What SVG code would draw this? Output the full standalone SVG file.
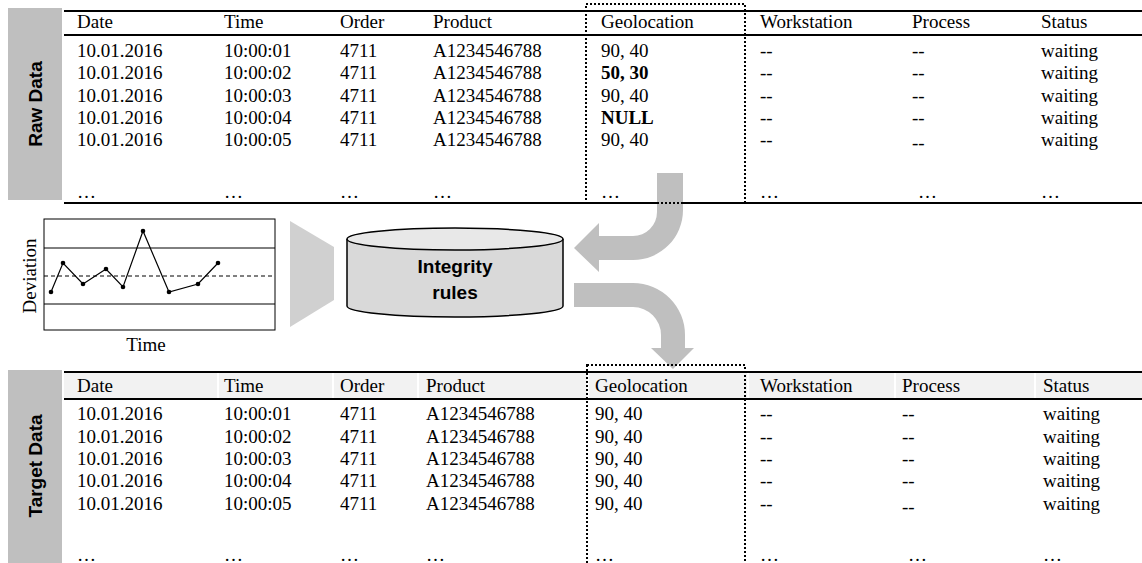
<svg xmlns="http://www.w3.org/2000/svg" width="1142" height="563" viewBox="0 0 1142 563">
<style>
.t{font-family:"Liberation Serif","Times New Roman",serif;font-size:19px;fill:#000}
.b{font-weight:bold}
.lab{font-family:"Liberation Sans",Arial,sans-serif;font-size:19px;font-weight:bold;fill:#000}
.rule{stroke:#000;stroke-width:2.2;fill:none}
.dot{fill:none;stroke:#000;stroke-width:2;stroke-dasharray:2 2}
.band{fill:#bfbfbf}
.arrow{fill:#bfbfbf}
</style>
<rect width="1142" height="563" fill="#fff"/>

<g id="raw-table">
<rect class="band" x="8" y="8" width="54" height="192"/>
<text class="lab" transform="translate(42,104) rotate(-90)" text-anchor="middle">Raw Data</text>
<line class="rule" x1="64" y1="11" x2="1142" y2="11"/>
<line class="rule" x1="64" y1="35" x2="1142" y2="35"/>
<line class="rule" x1="64" y1="203" x2="1142" y2="203"/>
<g class="t">
<text x="77" y="28">Date</text><text x="224" y="28">Time</text><text x="340" y="28">Order</text><text x="433" y="28">Product</text><text x="601" y="28">Geolocation</text><text x="760" y="28">Workstation</text><text x="912" y="28">Process</text><text x="1041" y="28">Status</text>
<text x="77" y="57">10.01.2016</text><text x="224" y="57">10:00:01</text><text x="340" y="57">4711</text><text x="433" y="57">A1234546788</text><text x="601" y="57">90, 40</text><text x="760" y="57">--</text><text x="912" y="57">--</text><text x="1041" y="57">waiting</text>
<text x="77" y="79">10.01.2016</text><text x="224" y="79">10:00:02</text><text x="340" y="79">4711</text><text x="433" y="79">A1234546788</text><text class="b" x="601" y="79">50, 30</text><text x="760" y="79">--</text><text x="912" y="79">--</text><text x="1041" y="79">waiting</text>
<text x="77" y="102">10.01.2016</text><text x="224" y="102">10:00:03</text><text x="340" y="102">4711</text><text x="433" y="102">A1234546788</text><text x="601" y="102">90, 40</text><text x="760" y="102">--</text><text x="912" y="102">--</text><text x="1041" y="102">waiting</text>
<text x="77" y="124">10.01.2016</text><text x="224" y="124">10:00:04</text><text x="340" y="124">4711</text><text x="433" y="124">A1234546788</text><text class="b" x="601" y="124">NULL</text><text x="760" y="124">--</text><text x="912" y="124">--</text><text x="1041" y="124">waiting</text>
<text x="77" y="146">10.01.2016</text><text x="224" y="146">10:00:05</text><text x="340" y="146">4711</text><text x="433" y="146">A1234546788</text><text x="601" y="146">90, 40</text><text x="760" y="146">--</text><text x="912" y="149">--</text><text x="1041" y="146">waiting</text>
<text x="77" y="198">…</text><text x="224" y="198">…</text><text x="340" y="198">…</text><text x="433" y="198">…</text><text x="601" y="198">…</text><text x="760" y="198">…</text><text x="918" y="198">…</text><text x="1041" y="198">…</text>
</g>
</g>

<g id="chart">
<rect x="44" y="219" width="231" height="111" fill="#fff" stroke="#000" stroke-width="1"/>
<line x1="44" y1="248" x2="275" y2="248" stroke="#000" stroke-width="1"/>
<line x1="44" y1="276" x2="275" y2="276" stroke="#000" stroke-width="1" stroke-dasharray="4 3"/>
<line x1="44" y1="304" x2="275" y2="304" stroke="#000" stroke-width="1"/>
<polyline points="51,292 63,263 83,284 106,269 123,287 143,231 169,292 198,284 218,263" fill="none" stroke="#000" stroke-width="1.2"/>
<g fill="#000">
<circle cx="51" cy="292" r="2.3"/><circle cx="63" cy="263" r="2.3"/><circle cx="83" cy="284" r="2.3"/><circle cx="106" cy="269" r="2.3"/><circle cx="123" cy="287" r="2.3"/><circle cx="143" cy="231" r="2.3"/><circle cx="169" cy="292" r="2.3"/><circle cx="198" cy="284" r="2.3"/><circle cx="218" cy="263" r="2.3"/>
</g>
<text class="t" transform="translate(36,276) rotate(-90)" text-anchor="middle">Deviation</text>
<text class="t" x="146" y="351" text-anchor="middle">Time</text>
</g>

<g id="funnel">
<polygon points="290,221 334,247 334,300 290,327" fill="#d0d0d0"/>
</g>

<g id="integrity-rules">
<path d="M347,239 V306 A108,11 0 0 0 563,306 V239" fill="#d9d9d9" stroke="#000" stroke-width="1.5"/>
<ellipse cx="455" cy="239" rx="108" ry="11" fill="#e8e8e8" stroke="#000" stroke-width="1.5"/>
<text class="lab" x="455" y="273" text-anchor="middle">Integrity</text>
<text class="lab" x="455" y="299" text-anchor="middle">rules</text>
</g>

<g id="connectors">
<path class="arrow" d="M657,173 H683 V210 A50,50 0 0 1 633,260 H599 V272 L574,248 L599,223 V236 H633 A24,24 0 0 0 657,212 Z"/>
<path class="arrow" d="M574,283 H633 A52,52 0 0 1 685,335 V348 H694 L673,369 L651,348 H661 V335 A28,28 0 0 0 633,307 H574 Z"/>
</g>

<g id="geo-highlight-raw">
<rect class="dot" x="586" y="4" width="159" height="199"/>
</g>

<g id="target-table">
<rect class="band" x="8" y="370" width="54" height="193"/>
<text class="lab" transform="translate(42,466) rotate(-90)" text-anchor="middle">Target Data</text>
<g fill="#f2f2f2">
<rect x="64" y="373" width="153" height="26"/><rect x="219" y="373" width="113" height="26"/><rect x="334" y="373" width="83" height="26"/><rect x="419" y="373" width="168" height="26"/><rect x="589" y="373" width="158" height="26"/><rect x="749" y="373" width="145" height="26"/><rect x="896" y="373" width="138" height="26"/><rect x="1036" y="373" width="106" height="26"/>
</g>
<line class="rule" x1="64" y1="372" x2="1142" y2="372"/>
<line class="rule" x1="64" y1="399" x2="1142" y2="399"/>
<g class="t">
<text x="77" y="392">Date</text><text x="224" y="392">Time</text><text x="340" y="392">Order</text><text x="426" y="392">Product</text><text x="595" y="392">Geolocation</text><text x="760" y="392">Workstation</text><text x="902" y="392">Process</text><text x="1043" y="392">Status</text>
<text x="77" y="420">10.01.2016</text><text x="224" y="420">10:00:01</text><text x="340" y="420">4711</text><text x="426" y="420">A1234546788</text><text x="595" y="420">90, 40</text><text x="760" y="420">--</text><text x="902" y="420">--</text><text x="1043" y="420">waiting</text>
<text x="77" y="443">10.01.2016</text><text x="224" y="443">10:00:02</text><text x="340" y="443">4711</text><text x="426" y="443">A1234546788</text><text x="595" y="443">90, 40</text><text x="760" y="443">--</text><text x="902" y="443">--</text><text x="1043" y="443">waiting</text>
<text x="77" y="465">10.01.2016</text><text x="224" y="465">10:00:03</text><text x="340" y="465">4711</text><text x="426" y="465">A1234546788</text><text x="595" y="465">90, 40</text><text x="760" y="465">--</text><text x="902" y="465">--</text><text x="1043" y="465">waiting</text>
<text x="77" y="487">10.01.2016</text><text x="224" y="487">10:00:04</text><text x="340" y="487">4711</text><text x="426" y="487">A1234546788</text><text x="595" y="487">90, 40</text><text x="760" y="487">--</text><text x="902" y="487">--</text><text x="1043" y="487">waiting</text>
<text x="77" y="510">10.01.2016</text><text x="224" y="510">10:00:05</text><text x="340" y="510">4711</text><text x="426" y="510">A1234546788</text><text x="595" y="510">90, 40</text><text x="760" y="510">--</text><text x="902" y="513">--</text><text x="1043" y="510">waiting</text>
<text x="77" y="561">…</text><text x="224" y="561">…</text><text x="340" y="561">…</text><text x="426" y="561">…</text><text x="595" y="561">…</text><text x="760" y="561">…</text><text x="908" y="561">…</text><text x="1043" y="561">…</text>
</g>
</g>

<g id="geo-highlight-target">
<rect class="dot" x="587" y="365" width="158" height="199"/>
</g>
</svg>
